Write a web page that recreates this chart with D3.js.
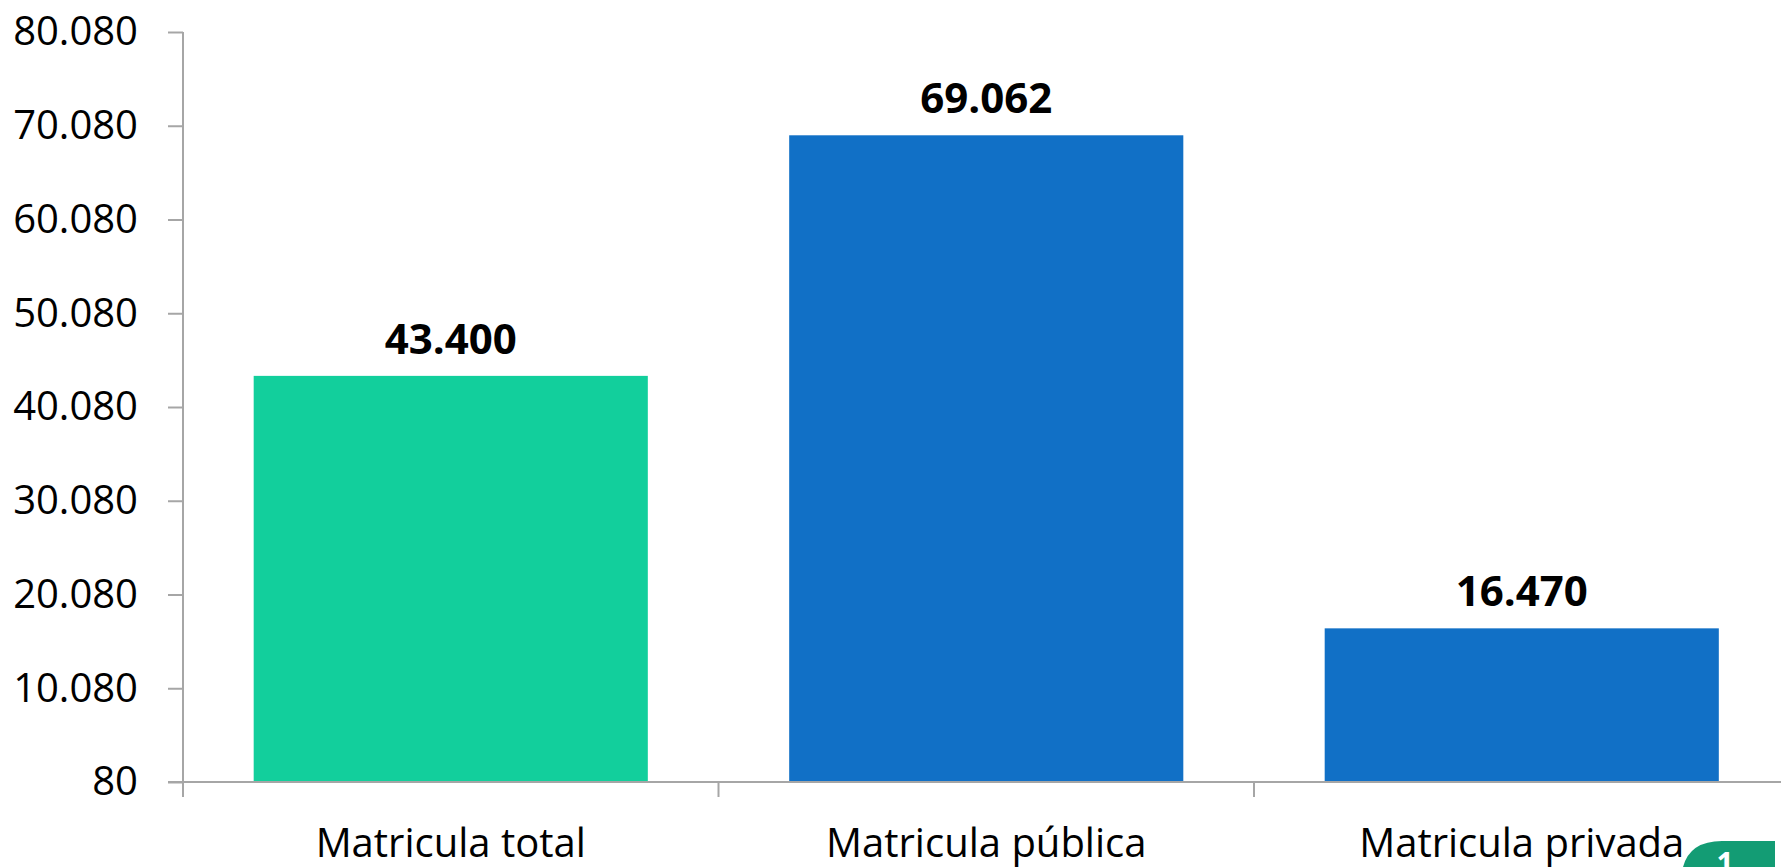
<!DOCTYPE html>
<html>
<head>
<meta charset="utf-8">
<script src="https://cdn.jsdelivr.net/npm/d3@7"></script>
<style>
  html, body { margin: 0; padding: 0; background: #fff; overflow: hidden; }
  svg { display: block; font-family: "Open Sans", "Noto Sans", sans-serif; }
</style>
</head>
<body>
<div id="chart"></div>
<script>
var categories = ["Matricula total", "Matricula pública", "Matricula privada"];
var values = [43400, 69062, 16470];
var barColors = ["#12CF9C", "#1170C6", "#1170C6"];
var yTicks = [80, 10080, 20080, 30080, 40080, 50080, 60080, 70080, 80080];
var badgeLabel = "1";

(function() {
	var width = 1781, height = 867;
	var margin = { top: 32, left: 183, bottom: 85 };
	var step = 535.5;

	var svg = d3.select("#chart")
				.append("svg")
				.attr("width", width)
				.attr("height", height);

	var fmt = d3.formatLocale({ decimal: ",", thousands: ".", grouping: [3], currency: ["", ""] }).format(",d");

	// scales
	var xScale = d3.scaleBand()
		.domain(categories)
		.range([margin.left, margin.left + step * categories.length])
		.paddingInner(0.264)
		.paddingOuter(0.132);

	var yScale = d3.scaleLinear()
		.domain([80, 80080])
		.range([height - margin.bottom, margin.top]);

	// y axis
	var yAxis = svg.append("g")
		.attr("transform", "translate(" + margin.left + ",0)")
		.call(d3.axisLeft(yScale).tickValues(yTicks).tickFormat(fmt).tickSize(15).tickPadding(30));
	yAxis.select(".domain").remove();
	yAxis.selectAll(".tick line").attr("stroke", "#a6a6a6").attr("stroke-width", 2);
	yAxis.selectAll(".tick text")
		.attr("font-size", 40)
		.attr("font-family", "'Open Sans', sans-serif")
		.attr("fill", "#000");
	yAxis.append("line")
		.attr("x1", 0).attr("x2", 0)
		.attr("y1", yScale(80080)).attr("y2", yScale(80) + 15)
		.attr("stroke", "#a6a6a6").attr("stroke-width", 2);

	// bars
	svg.selectAll("rect.bar")
		.data(values)
		.enter()
		.append("rect")
		.attr("class", "bar")
		.attr("x", function(d, i) { return xScale(categories[i]); })
		.attr("width", xScale.bandwidth())
		.attr("y", function(d) { return yScale(d); })
		.attr("height", function(d) { return yScale(80) - yScale(d); })
		.attr("fill", function(d, i) { return barColors[i]; });

	// value labels
	svg.selectAll("text.val")
		.data(values)
		.enter()
		.append("text")
		.attr("class", "val")
		.attr("x", function(d, i) { return xScale(categories[i]) + xScale.bandwidth() / 2; })
		.attr("y", function(d) { return yScale(d) - 22; })
		.attr("text-anchor", "middle")
		.attr("font-size", 42)
		.attr("font-weight", "bold")
		.text(function(d) { return fmt(d); });

	// x axis
	var x0 = margin.left - 15, y0 = yScale(80);
	svg.append("line")
		.attr("x1", x0).attr("x2", width)
		.attr("y1", y0).attr("y2", y0)
		.attr("stroke", "#a6a6a6").attr("stroke-width", 2);
	svg.selectAll("line.ctick")
		.data(categories.slice(1))
		.enter()
		.append("line")
		.attr("class", "ctick")
		.attr("x1", function(d) { return xScale(d) - xScale.step() * xScale.paddingInner() / 2; })
		.attr("x2", function(d) { return xScale(d) - xScale.step() * xScale.paddingInner() / 2; })
		.attr("y1", y0).attr("y2", y0 + 15)
		.attr("stroke", "#a6a6a6").attr("stroke-width", 2);
	svg.selectAll("text.cat")
		.data(categories)
		.enter()
		.append("text")
		.attr("class", "cat")
		.attr("x", function(d) { return xScale(d) + xScale.bandwidth() / 2; })
		.attr("y", 857)
		.attr("text-anchor", "middle")
		.attr("font-size", 40)
		.text(function(d) { return d; });

	// page badge bottom right
	svg.append("path")
		.attr("d", "M1683,867 Q1690,841 1722,841 L1775,841 L1775,867 Z")
		.attr("fill", "#139C74");
	svg.append("text")
		.attr("x", 1725).attr("y", 874)
		.attr("text-anchor", "middle")
		.attr("font-size", 30)
		.attr("font-weight", "bold")
		.attr("fill", "#fff")
		.text(badgeLabel);
})();
</script>
</body>
</html>
